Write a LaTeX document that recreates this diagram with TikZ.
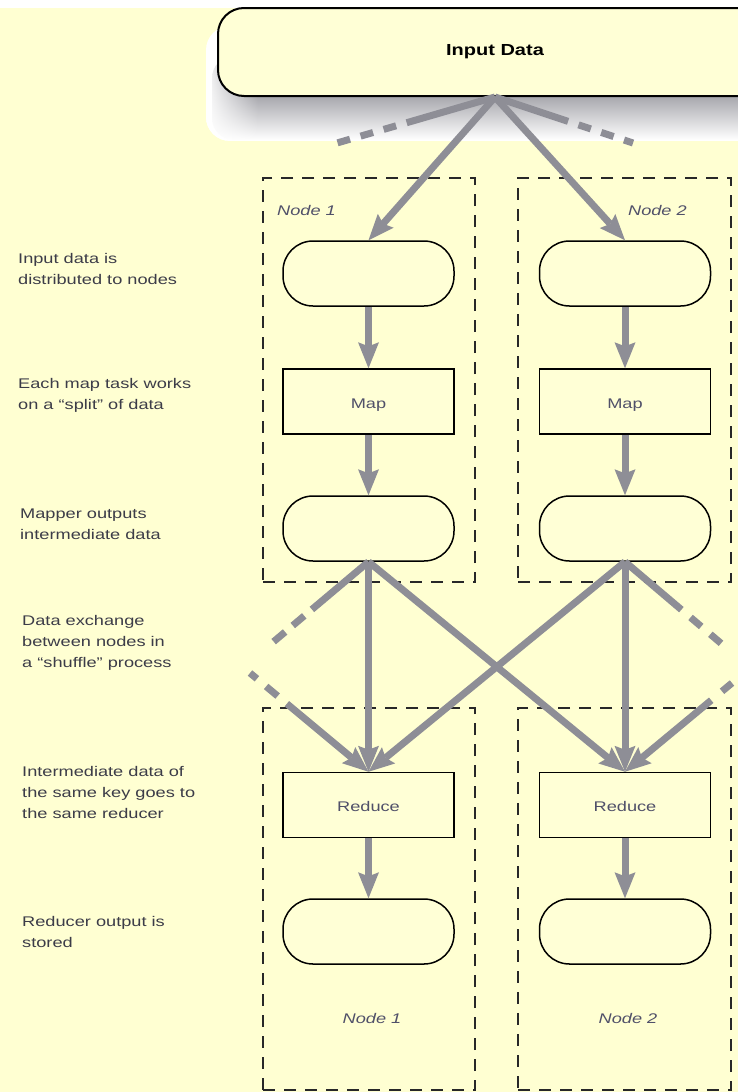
\documentclass[tikz,border=0pt]{standalone}
\usepackage{fontspec}
\setmainfont{Liberation Sans}
\newfontfamily\lblfont[FakeStretch=1.3]{Liberation Sans}
\newfontfamily\headfont[FakeStretch=1.25]{Liberation Sans}
\usetikzlibrary{arrows.meta,fadings}

\definecolor{paper}{RGB}{255,255,210}
\definecolor{boxfill}{RGB}{255,255,214}
\definecolor{flowgray}{RGB}{142,142,150}
\definecolor{inkgray}{RGB}{60,60,72}
\definecolor{inkblue}{RGB}{80,80,105}
\definecolor{dashink}{RGB}{40,40,40}
\definecolor{shadowgray}{RGB}{88,88,98}

\tikzfading[name=fadeout right, left color=transparent!0, right color=transparent!100]

\tikzset{
  pill/.style={draw=black, line width=1.5pt, fill=boxfill, rounded corners=30pt,
    minimum width=171pt, minimum height=65pt, inner sep=0pt},
  taskbox/.style={draw=black, line width=1.5pt, fill=boxfill,
    minimum width=171pt, minimum height=65pt, inner sep=0pt,
    text height=13pt, text depth=0pt,
    font=\lblfont\fontsize{14}{16}\selectfont, text=inkblue},
  nodebox/.style={draw=dashink, line width=2.2pt, dash pattern=on 12pt off 9pt, inner sep=0pt},
  nodelbl/.style={font=\lblfont\itshape\fontsize{14}{16}\selectfont, text=inkblue, inner sep=0pt},
  note/.style={font=\lblfont\fontsize{14}{21}\selectfont, text=inkgray, align=left,
    anchor=west, inner sep=0pt},
  spoke/.style={draw=flowgray, line width=7pt},
  flow/.style={spoke, -{Stealth[length=26pt, width=21pt, inset=4pt, line width=0pt]}},
}

\begin{document}
\begin{tikzpicture}[x=1pt, y=-1pt]
  % page
  \clip (0,0) rectangle (738,1092);
  \fill[paper] (0,0) rectangle (738,1092);
  \fill[white] (0,0) rectangle (738,8);

  % dashed machine boundaries
  \node[nodebox, minimum width=212pt, minimum height=404pt] (top1) at (369,380) {};
  \node[nodebox, minimum width=213pt, minimum height=404pt] (top2) at (624.5,380) {};
  \node[nodebox, minimum width=212pt, minimum height=382pt] (bot1) at (369,899) {};
  \node[nodebox, minimum width=213pt, minimum height=382pt] (bot2) at (624.5,899) {};

  \node[nodelbl, anchor=west] (lt1) at (277,210) {Node 1};
  \node[nodelbl, anchor=east] (lt2) at (687,210) {Node 2};
  \node[nodelbl] (lb1) at (372,1018) {Node 1};
  \node[nodelbl] (lb2) at (628,1018) {Node 2};

  % soft drop shadow of the input data store
  \begin{scope}
    \clip[rounded corners=24pt] (206,26) rectangle (800,141);
    \fill[white] (206,26) rectangle (800,141);
    \shade[top color=shadowgray, middle color=shadowgray, bottom color=white,
           rounded corners=22pt] (212,56) rectangle (800,140);
    \fill[white, path fading=fadeout right] (205,50) rectangle (258,141);
  \end{scope}

  % input data store
  \node[draw=black, line width=2pt, fill=boxfill, rounded corners=26pt,
        minimum width=554pt, minimum height=88pt, inner sep=0pt,
        font=\headfont\bfseries\fontsize{16}{18}\selectfont]
        (input) at (495,52) {Input Data};

  % per-node boxes
  \node[pill] (in1) at (368.5,273.5) {};
  \node[pill] (in2) at (625,273.5) {};
  \node[taskbox] (map1) at (368.5,401.5) {Map};
  \node[taskbox] (map2) at (625,401.5) {Map};
  \node[pill] (mid1) at (368.5,528.5) {};
  \node[pill] (mid2) at (625,528.5) {};
  \node[taskbox] (red1) at (368.5,805) {Reduce};
  \node[taskbox] (red2) at (625,805) {Reduce};
  \node[pill] (out1) at (368.5,931.5) {};
  \node[pill] (out2) at (625,931.5) {};

  % free ends of the partly shown flows
  \coordinate (fanL) at (337,143);
  \coordinate (fanR) at (633,143);
  \coordinate (outL) at (272,643);
  \coordinate (outR) at (723,645);
  \coordinate (inL) at (250,673);
  \coordinate (inR) at (732,683);

  % distribution of the input
  \draw[spoke, dash pattern=on 92pt off 11pt on 13pt off 11pt on 13pt off 11pt on 13pt]
    (input.south) -- (fanL);
  \draw[spoke, dash pattern=on 77pt off 11pt on 13pt off 11pt on 13pt off 11pt on 13pt]
    (input.south) -- (fanR);
  \draw[flow] (input.south) -- (in1.north);
  \draw[flow] (input.south) -- (in2.north);

  % map stage
  \draw[flow] (in1) -- (map1);
  \draw[flow] (in2) -- (map2);
  \draw[flow] (map1) -- (mid1);
  \draw[flow] (map2) -- (mid2);

  % shuffle
  \draw[spoke, dash pattern=on 74pt off 10pt on 15pt off 10pt on 15pt] (mid1.south) -- (outL);
  \draw[spoke, dash pattern=on 74pt off 12pt on 14pt off 12pt on 14pt] (mid2.south) -- (outR);
  \draw[flow, dash pattern=on 9pt off 12pt on 15pt off 12pt on 400pt] (inL) -- (red1.north);
  \draw[flow, dash pattern=on 13pt off 14pt on 400pt] (inR) -- (red2.north);
  \draw[flow] (mid1.south) -- (red1.north);
  \draw[flow] (mid1.south) -- (red2.north);
  \draw[flow] (mid2.south) -- (red1.north);
  \draw[flow] (mid2.south) -- (red2.north);

  % reduce stage
  \draw[flow] (red1) -- (out1);
  \draw[flow] (red2) -- (out2);

  % step notes
  \node[note] (n1) at (18,268.5) {Input data is\\distributed to nodes};
  \node[note] (n2) at (18,395.5) {Each map task works\\on a “split” of data};
  \node[note] (n3) at (20,524.5) {Mapper outputs\\intermediate data};
  \node[note] (n4) at (22,642.5) {Data exchange\\between nodes in\\a “shuffle” process};
  \node[note] (n5) at (22,792.5) {Intermediate data of\\the same key goes to\\the same reducer};
  \node[note] (n6) at (22,932) {Reducer output is\\stored};
\end{tikzpicture}
\end{document}
